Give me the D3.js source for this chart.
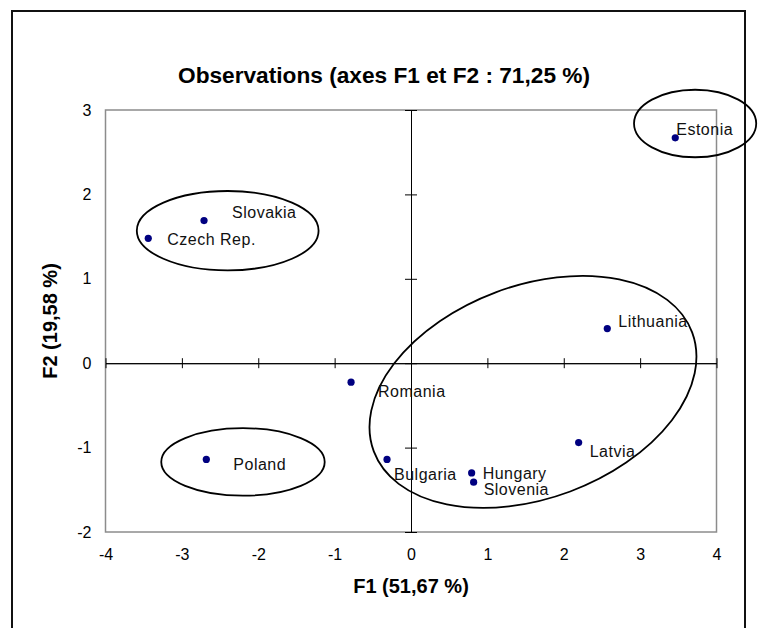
<!DOCTYPE html>
<html>
<head>
<meta charset="utf-8">
<script src="https://cdn.jsdelivr.net/npm/d3@7"></script>
<style>
  html, body { margin: 0; padding: 0; background: #fff; }
  svg { display: block; font-family: "Liberation Sans", Arial, sans-serif; }
</style>
</head>
<body>
<svg id="chart" width="761" height="628"></svg>
<script>
// ---- data ----
const countries = ["Estonia", "Slovakia", "Czech Rep.", "Lithuania", "Romania", "Latvia", "Bulgaria", "Hungary", "Slovenia", "Poland"];
const f1 = [3.46, -2.71, -3.44, 2.57, -0.785, 2.195, -0.314, 0.794, 0.82, -2.68];
const f2 = [2.67, 1.69, 1.48, 0.41, -0.225, -0.94, -1.14, -1.30, -1.41, -1.14];
const xTicks = [-4, -3, -2, -1, 0, 1, 2, 3, 4];
const yTicks = [-2, -1, 0, 1, 2, 3];
const titleText = "Observations (axes F1 et F2 : 71,25 %)";
const xTitle = "F1 (51,67 %)";
const yTitle = "F2 (19,58 %)";
// group ellipses (data units: centre, half-axes, rotation in degrees)
const groupCx = [3.72, -2.40, -2.20, 1.597];
const groupCy = [2.84, 1.57, -1.17, -0.34];
const groupRx = [0.80, 1.19, 1.07, 2.225];
const groupRy = [0.40, 0.47, 0.40, 1.26];
const groupAngle = [0, 0, 0, -20.5];
// label offsets (px from point)
const labelDx = [1, 28, 19, 11, 27, 11, 7, 11, 10, 27];
const labelDy = [-3, -3, 7, -2, 15, 14, 21, 6, 13, 11];

// ---- drawing ----
const svg = d3.select("#chart");
const x = d3.scaleLinear().domain([-4, 4]).range([105.5, 716.5]);
const y = d3.scaleLinear().domain([-2, 3]).range([532, 110]);
const kx = Math.abs(x(1) - x(0)), ky = Math.abs(y(1) - y(0));
const fmt = d => String(d);

// outer border
svg.append("rect").attr("x", 12).attr("y", 11).attr("width", 733).attr("height", 640)
  .attr("fill", "none").attr("stroke", "#111").attr("stroke-width", 2);

// title
svg.append("text").attr("x", 384).attr("y", 83).attr("text-anchor", "middle")
  .attr("font-size", 22).attr("font-weight", "bold").attr("fill", "#000")
  .attr("textLength", 412).attr("lengthAdjust", "spacingAndGlyphs").text(titleText);

// plot frame
svg.append("rect").attr("x", x(-4)).attr("y", y(3)).attr("width", x(4) - x(-4)).attr("height", y(-2) - y(3))
  .attr("fill", "none").attr("stroke", "#8c8c8c").attr("stroke-width", 1.5);

// tick labels (bottom / left)
const xLab = svg.append("g").attr("transform", `translate(0,${y(-2)})`)
  .call(d3.axisBottom(x).tickValues(xTicks).tickSize(0).tickPadding(17).tickFormat(fmt));
xLab.select(".domain").remove();
xLab.selectAll("text").attr("font-size", 16).attr("font-family", "Liberation Sans, Arial, sans-serif").attr("fill", "#000");

const yLab = svg.append("g").attr("transform", `translate(${x(-4)},0)`)
  .call(d3.axisLeft(y).tickValues(yTicks).tickSize(0).tickPadding(14).tickFormat(fmt));
yLab.select(".domain").remove();
yLab.selectAll("text").attr("font-size", 16).attr("font-family", "Liberation Sans, Arial, sans-serif").attr("fill", "#000");

// zero axes with crossing ticks
function styleAxis(g) {
  g.selectAll("path, line").attr("stroke", "#000").attr("stroke-width", 1);
  g.selectAll("text").remove();
}
svg.append("g").attr("transform", `translate(0,${y(0)})`)
  .call(d3.axisBottom(x).tickValues(xTicks).tickSizeInner(5).tickSizeOuter(0)).call(styleAxis);
svg.append("g").attr("transform", `translate(0,${y(0)})`)
  .call(d3.axisTop(x).tickValues(xTicks).tickSizeInner(5).tickSizeOuter(0)).call(styleAxis);
svg.append("g").attr("transform", `translate(${x(0)},0)`)
  .call(d3.axisLeft(y).tickValues(yTicks).tickSizeInner(6).tickSizeOuter(0)).call(styleAxis);
svg.append("g").attr("transform", `translate(${x(0)},0)`)
  .call(d3.axisRight(y).tickValues(yTicks).tickSizeInner(6).tickSizeOuter(0)).call(styleAxis);

// axis titles
svg.append("text").attr("x", x(0)).attr("y", 593).attr("text-anchor", "middle")
  .attr("font-size", 20).attr("font-weight", "bold").text(xTitle);
svg.append("text").attr("transform", `translate(57,${(y(3) + y(-2)) / 2}) rotate(-90)`).attr("text-anchor", "middle")
  .attr("font-size", 20).attr("font-weight", "bold").text(yTitle);

// ellipses
const groups = groupCx.map((cx, i) => ({ cx, cy: groupCy[i], rx: groupRx[i], ry: groupRy[i], a: groupAngle[i] }));
svg.append("g").selectAll("ellipse").data(groups).join("ellipse")
  .attr("transform", d => `translate(${x(d.cx)},${y(d.cy)}) rotate(${d.a})`)
  .attr("rx", d => d.rx * kx).attr("ry", d => d.ry * ky)
  .attr("fill", "none").attr("stroke", "#000").attr("stroke-width", 1.8);

// points
const pts = countries.map((c, i) => ({ c, x: f1[i], y: f2[i], dx: labelDx[i], dy: labelDy[i] }));
svg.append("g").selectAll("circle").data(pts).join("circle")
  .attr("cx", d => x(d.x)).attr("cy", d => y(d.y)).attr("r", 3.6).attr("fill", "#000080");
svg.append("g").selectAll("text").data(pts).join("text")
  .attr("x", d => x(d.x) + d.dx).attr("y", d => y(d.y) + d.dy)
  .attr("font-size", 16).attr("letter-spacing", 0.5).attr("fill", "#111").text(d => d.c);
</script>
</body>
</html>
